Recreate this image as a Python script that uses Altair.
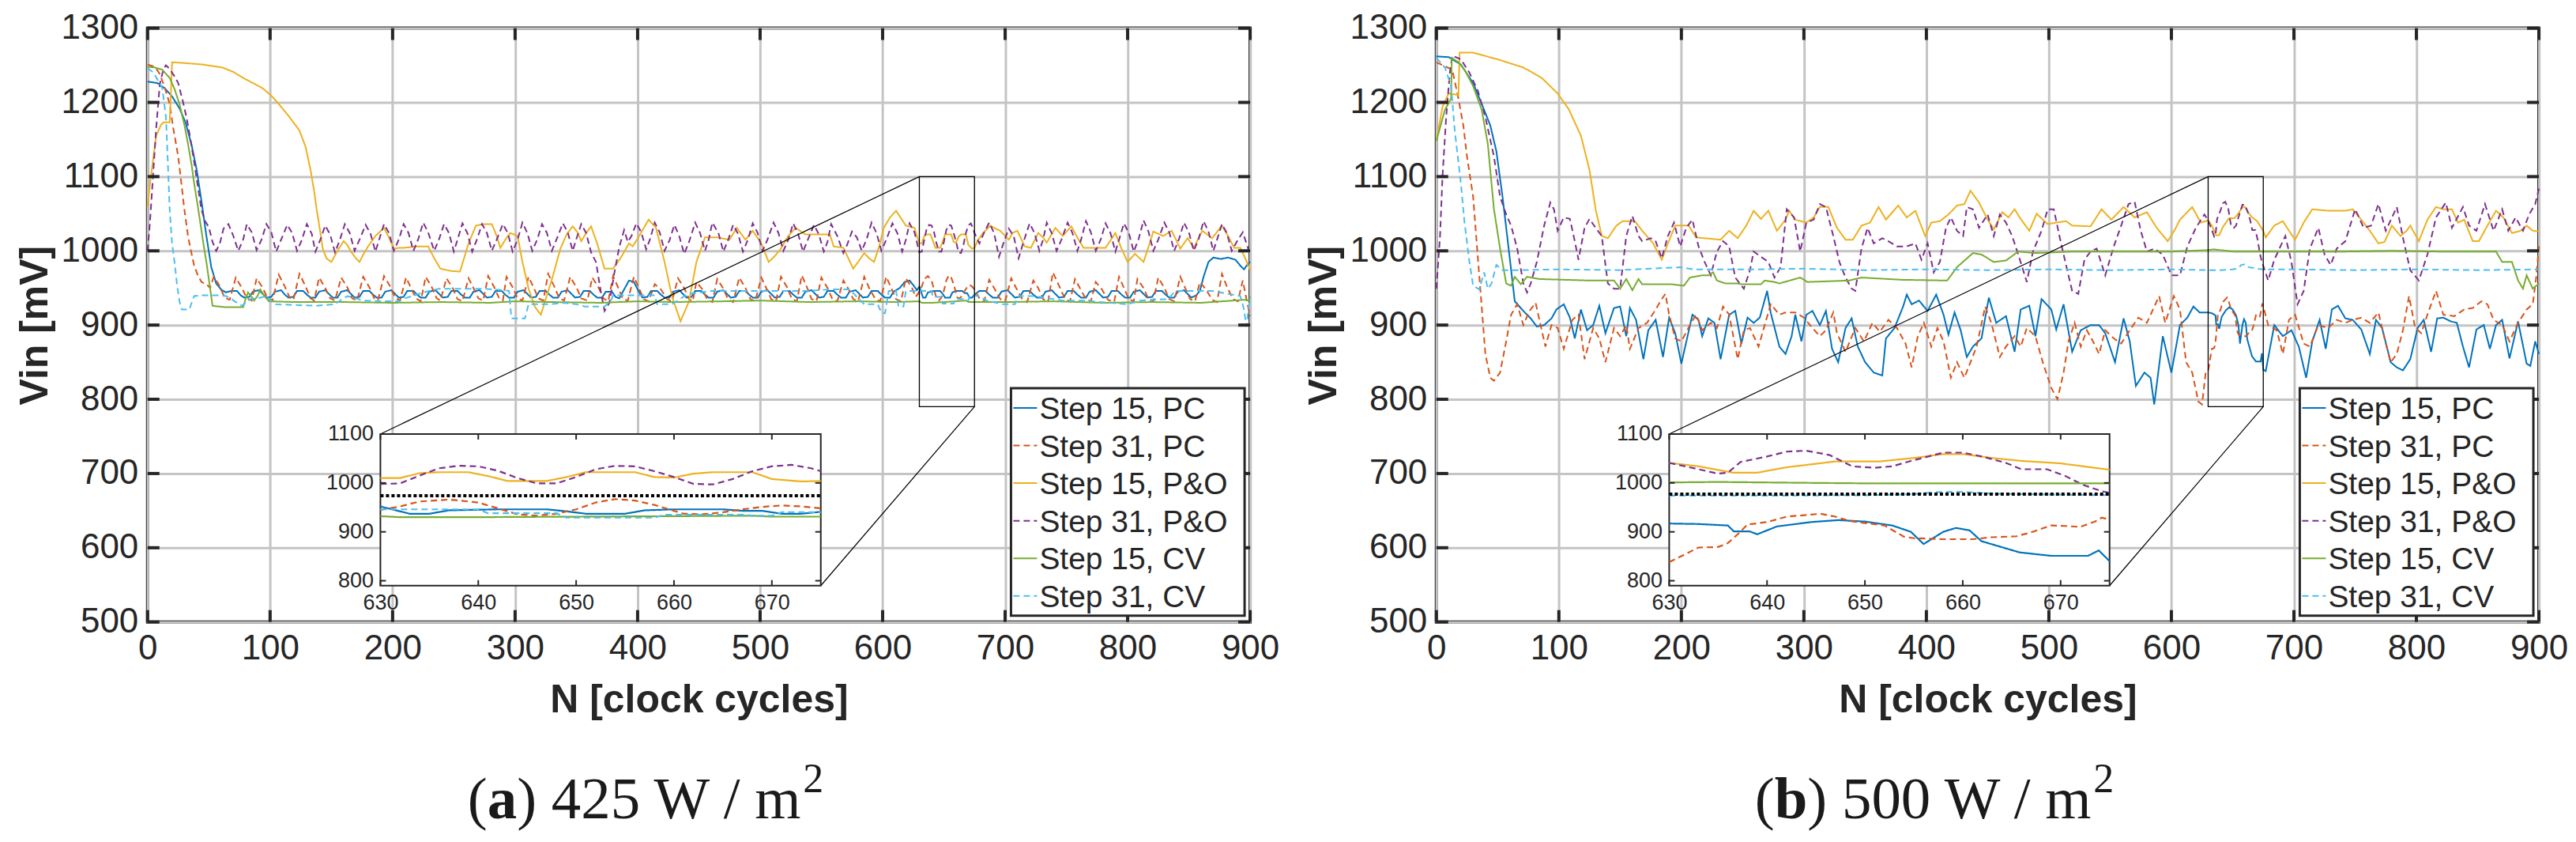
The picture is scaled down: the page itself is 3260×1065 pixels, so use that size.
import altair as alt
import pandas as pd

SERIES = ["Step 15, PC", "Step 31, PC", "Step 15, P&O", "Step 31, P&O", "Step 15, CV", "Step 31, CV"]
COLORS = ["#0072BD", "#D95319", "#EDB120", "#7E2F8E", "#77AC30", "#4DBEEE"]
DASHES = [[1, 0], [8, 5], [1, 0], [8, 5], [1, 0], [8, 5]]

X_TICKS = [0, 100, 200, 300, 400, 500, 600, 700, 800, 900]
Y_TICKS = [500, 600, 700, 800, 900, 1000, 1100, 1200, 1300]
INSET_X_TICKS = [630, 640, 650, 660, 670]
INSET_Y_TICKS = [800, 900, 1000, 1100]
ZOOM_N = [630, 675]
ZOOM_MV = [790, 1100]

# ---- (a) 425 W/m2, (cycle, mV) ----
A_PC15 = [(0,1228),(8,1226),(14,1219),(20,1208),(26,1192),(31,1173),(36,1142),(40,1110),(44,1067),(48,1020),(52,978),(56,956),(60,948),(64,944),(68,946),(73,946),(76,940),(79,937),(83,938),(86,945),(91,947),(94,942),(97,937),(101,938),(104,945),(109,947),(112,941),(115,937),(119,938),(122,946),(127,946),(130,941),(133,937),(137,937),(140,945),(145,947),(148,942),(151,937),(155,937),(158,945),(163,947),(166,942),(169,937),(173,938),(176,946),(181,946),(184,941),(187,937),(191,937),(194,945),(199,947),(202,942),(205,937),(209,938),(212,946),(217,946),(220,941),(223,937),(227,937),(230,945),(235,947),(238,942),(241,937),(245,938),(248,946),(253,946),(256,941),(259,937),(263,937),(266,945),(271,947),(274,942),(277,937),(281,938),(284,946),(289,946),(292,941),(295,937),(299,937),(302,945),(307,947),(310,942),(313,937),(317,938),(320,946),(325,946),(328,941),(331,937),(335,937),(338,945),(343,947),(346,942),(349,937),(353,938),(356,946),(361,946),(364,941),(367,937),(371,937),(374,945),(379,945),(382,938),(385,936),(389,948),(393,960),(397,958),(401,945),(404,937),(408,938),(411,946),(416,946),(419,941),(422,937),(426,937),(429,945),(434,947),(437,942),(440,937),(444,938),(447,946),(452,946),(455,941),(458,937),(462,937),(465,945),(470,947),(473,942),(476,937),(480,938),(483,946),(488,946),(491,941),(494,937),(498,937),(501,945),(506,947),(509,942),(512,937),(516,938),(519,946),(524,946),(527,941),(530,937),(534,937),(537,945),(542,947),(545,942),(548,937),(552,938),(555,946),(560,946),(563,941),(566,937),(570,937),(573,945),(578,947),(581,942),(584,937),(588,938),(591,946),(596,946),(599,941),(602,937),(606,937),(609,945),(614,950),(618,958),(622,960),(625,954),(628,947),(630,952),(632,942),(633,937),(635,937),(637,944),(642,946),(647,946),(649,942),(651,937),(655,937),(657,944),(660,946),(665,946),(667,943),(669,943),(671,937),(673,937),(675,941),(679,946),(684,946),(687,941),(690,937),(694,937),(697,945),(702,947),(705,942),(708,937),(712,938),(715,946),(720,946),(723,941),(726,937),(730,937),(733,945),(738,947),(741,942),(744,937),(748,938),(751,946),(756,946),(759,941),(762,937),(766,937),(769,945),(774,947),(777,942),(780,937),(784,938),(787,946),(792,946),(795,941),(798,937),(802,937),(805,945),(810,947),(813,942),(816,937),(820,938),(823,946),(828,946),(831,941),(834,937),(838,937),(841,945),(846,947),(849,942),(852,937),(856,940),(859,946),(862,965),(866,985),(870,991),(876,989),(882,991),(888,988),(892,980),(895,975),(898,982),(900,985)]
A_PC31 = [(0,1251),(6,1248),(10,1238),(14,1220),(18,1198),(21,1165),(25,1127),(28,1085),(30,1056),(33,1020),(35,1003),(38,980),(41,967),(44,958),(48,955),(51,950),(54,965),(58,955),(63,937),(67,934),(72,964),(77,950),(81,936),(85,933),(89,963),(94,950),(98,936),(102,933),(107,968),(112,952),(116,937),(119,934),(124,969),(129,952),(133,936),(136,933),(140,964),(145,950),(149,936),(153,933),(158,964),(163,951),(167,936),(171,933),(176,965),(181,951),(185,936),(188,933),(193,966),(198,952),(202,937),(206,933),(211,964),(215,950),(219,936),(223,932),(227,965),(232,951),(236,936),(239,933),(244,963),(249,950),(253,935),(257,932),(262,963),(266,950),(270,936),(274,933),(278,966),(283,951),(287,936),(290,933),(293,965),(298,951),(302,936),(306,933),(311,965),(315,951),(319,936),(323,933),(327,969),(332,952),(336,936),(340,933),(345,965),(350,951),(354,936),(359,933),(363,964),(368,951),(372,936),(376,932),(380,966),(384,951),(388,935),(392,933),(397,965),(401,950),(405,935),(409,932),(414,955),(419,948),(424,935),(428,932),(433,963),(438,950),(442,935),(445,932),(448,958),(453,948),(457,934),(461,931),(465,962),(470,949),(474,934),(478,931),(483,964),(488,950),(492,935),(496,932),(501,964),(505,950),(509,935),(513,932),(517,965),(522,951),(526,935),(530,932),(534,967),(538,952),(542,935),(546,932),(550,964),(555,950),(559,935),(563,932),(568,960),(572,949),(576,935),(580,932),(585,965),(589,950),(594,935),(598,932),(603,965),(607,950),(611,935),(615,932),(619,963),(624,950),(627,938),(630,945),(632,952),(634,962),(637,966),(640,960),(642,948),(644,936),(646,933),(648,937),(650,946),(652,960),(654,967),(656,964),(658,955),(660,943),(661,937),(663,936),(665,940),(667,946),(669,951),(671,954),(673,952),(675,948),(679,936),(683,932),(687,961),(691,950),(696,935),(700,932),(705,963),(709,950),(714,935),(718,931),(723,960),(727,950),(731,935),(735,931),(739,971),(744,953),(749,935),(753,932),(757,962),(761,950),(766,935),(770,932),(774,958),(779,948),(784,934),(789,931),(793,965),(797,950),(801,935),(805,932),(808,962),(813,950),(817,935),(821,932),(825,964),(830,950),(834,935),(838,932),(843,965),(847,950),(851,935),(855,932),(859,958),(864,948),(869,934),(873,931),(877,969),(881,952),(886,935),(890,932),(894,960),(897,935),(900,912)]
A_PO15 = [(0,1060),(2,1091),(7,1155),(11,1170),(13,1173),(18,1173),(19,1210),(20,1254),(30,1253),(45,1251),(61,1247),(70,1241),(78,1233),(86,1226),(94,1219),(101,1209),(107,1198),(115,1182),(124,1162),(129,1140),(133,1109),(136,1080),(138,1056),(141,1025),(143,1003),(146,990),(150,985),(155,1000),(160,1013),(163,1008),(166,999),(170,990),(173,985),(176,995),(180,1006),(186,1020),(193,1031),(197,1018),(201,1003),(205,1004),(209,1004),(220,1006),(229,1006),(234,990),(239,976),(247,973),(255,972),(262,1010),(268,1034),(274,1036),(281,1036),(285,1020),(288,1004),(292,1015),(296,1024),(302,1020),(306,985),(311,949),(316,925),(321,914),(326,940),(331,967),(337,1003),(342,1022),(347,1033),(351,1025),(354,1013),(358,1024),(362,1033),(367,1010),(373,976),(380,976),(386,990),(393,1010),(396,1006),(402,1022),(409,1042),(415,1031),(422,985),(428,939),(435,905),(442,932),(448,985),(455,1018),(465,1018),(475,1015),(481,1031),(488,1015),(494,1027),(501,1010),(507,985),(512,993),(517,1003),(523,1020),(529,1031),(537,1022),(557,1022),(560,1006),(568,1004),(576,976),(580,985),(585,997),(589,990),(593,985),(597,1005),(601,1031),(606,1045),(611,1054),(615,1044),(619,1034),(626,1031),(628,1020),(630,1010),(632,1010),(634,1020),(636,1022),(639,1022),(641,1014),(643,1004),(647,1004),(649,1012),(651,1022),(656,1022),(658,1012),(660,1011),(662,1019),(664,1022),(668,1022),(670,1008),(673,1003),(675,1004),(678,1015),(682,1024),(688,1034),(692,1030),(696,1027),(700,1020),(703,1015),(706,1024),(710,1027),(716,1006),(721,1004),(727,1024),(731,1018),(734,1011),(741,1031),(747,1020),(754,1033),(759,1018),(764,1004),(782,1004),(786,1014),(790,1024),(795,1003),(800,985),(806,996),(813,985),(817,1005),(821,1026),(829,1020),(836,1027),(843,1003),(849,1017),(854,1004),(861,1027),(869,1017),(877,1034),(882,1020),(887,1004),(892,1004),(896,990),(900,974)]
A_PO31 = [(0,1000),(2,1040),(4,1090),(7,1165),(10,1225),(13,1245),(15,1250),(18,1245),(22,1235),(25,1226),(29,1200),(32,1178),(35,1150),(38,1120),(41,1087),(44,1055),(47,1040),(50,1032),(53,1012),(56,1000),(59,1010),(62,1030),(66,1036),(70,1020),(74,1000),(78,1015),(81,1036),(85,1025),(89,1001),(93,1015),(97,1036),(101,1025),(105,999),(109,1015),(114,1035),(118,1024),(122,1000),(126,1015),(130,1036),(134,1023),(137,999),(141,1015),(145,1034),(149,1022),(153,998),(157,1015),(161,1036),(165,1024),(169,1000),(173,1015),(178,1035),(182,1023),(186,999),(189,1015),(193,1036),(197,1024),(201,1000),(205,1015),(209,1036),(213,1024),(217,1000),(221,1016),(225,1038),(229,1025),(234,1000),(238,1016),(242,1036),(246,1024),(250,999),(253,1015),(257,1037),(261,1024),(265,999),(269,1016),(273,1036),(277,1024),(281,1000),(285,1015),(290,1036),(294,1024),(298,999),(302,1015),(306,1038),(310,1024),(314,1000),(318,1015),(322,1036),(326,1024),(330,1000),(334,1016),(339,1037),(343,1025),(347,1000),(350,1016),(354,1036),(358,1024),(362,998),(366,985),(370,945),(373,919),(377,930),(381,970),(385,1005),(389,1028),(392,1012),(395,1020),(399,1037),(403,1025),(407,1002),(410,1015),(414,1038),(418,1025),(422,1000),(426,1014),(430,1035),(434,1020),(438,996),(442,1012),(447,1038),(451,1024),(455,1000),(458,1015),(461,1038),(466,1024),(470,999),(474,1015),(478,1035),(482,1023),(486,999),(490,1015),(494,1037),(498,1024),(502,1000),(506,1015),(511,1038),(515,1024),(519,1000),(523,1015),(527,1037),(531,1023),(535,999),(539,1015),(544,1035),(548,1022),(552,999),(555,1012),(558,1036),(563,1020),(568,997),(571,1008),(575,1026),(579,1018),(583,1000),(587,1016),(591,1038),(595,1024),(599,1000),(603,1015),(608,1037),(612,1024),(616,999),(619,1015),(622,1037),(626,1025),(630,998),(632,999),(634,1015),(636,1030),(638,1035),(640,1034),(642,1025),(644,1010),(646,999),(648,999),(650,1012),(652,1028),(654,1035),(656,1034),(658,1024),(660,1012),(662,998),(664,997),(666,1008),(668,1024),(670,1034),(672,1037),(674,1030),(675,1024),(679,1010),(683,1025),(687,1038),(691,1024),(695,992),(699,1012),(703,1030),(707,1020),(711,990),(715,1012),(720,1037),(724,1024),(728,1000),(731,1015),(734,1038),(738,1024),(742,1000),(746,1015),(751,1038),(755,1024),(759,1000),(762,1015),(766,1040),(770,1025),(774,1000),(778,1015),(782,1037),(786,1024),(790,999),(793,1015),(797,1037),(801,1024),(805,999),(809,1016),(813,1041),(817,1026),(821,1000),(825,1015),(830,1038),(834,1025),(838,1000),(842,1016),(846,1038),(850,1025),(854,1000),(858,1016),(862,1040),(866,1026),(870,1000),(873,1015),(877,1036),(881,1024),(885,1000),(889,1012),(894,1025),(897,1010),(900,995)]
A_CV15 = [(0,1248),(6,1247),(12,1244),(18,1233),(22,1218),(26,1198),(30,1170),(33,1144),(36,1115),(38,1091),(41,1060),(43,1038),(46,1005),(48,985),(51,950),(53,926),(58,925),(64,924),(72,924),(78,924),(80,935),(82,944),(85,938),(87,933),(90,940),(92,948),(95,940),(99,932),(120,931),(160,931),(200,930),(240,931),(280,930),(300,932),(330,931),(370,930),(400,932),(430,931),(470,932),(500,933),(540,931),(580,932),(610,931),(630,932),(632,930),(640,930),(650,931),(660,932),(668,933),(670,931),(675,931),(700,931),(740,932),(780,930),(820,931),(860,930),(895,934),(900,933)]
A_CV31 = [(0,1246),(5,1240),(9,1228),(12,1219),(15,1180),(17,1100),(18,1056),(20,1010),(22,985),(24,955),(26,932),(28,921),(30,921),(34,921),(36,930),(38,939),(45,940),(51,940),(58,940),(64,939),(68,936),(71,932),(77,926),(80,930),(84,935),(92,937),(97,939),(100,934),(104,928),(120,927),(137,926),(153,928),(158,934),(163,939),(170,936),(176,933),(189,932),(205,932),(210,936),(216,939),(225,944),(238,949),(255,949),(275,949),(290,947),(295,946),(297,909),(308,909),(311,928),(327,928),(340,930),(350,928),(357,925),(373,925),(378,932),(380,940),(395,940),(414,940),(416,928),(428,928),(441,942),(461,946),(501,946),(537,946),(557,948),(573,948),(585,928),(596,928),(599,917),(602,916),(605,946),(611,946),(613,925),(617,925),(619,946),(630,946),(640,946),(641,938),(648,938),(649,929),(658,929),(659,935),(667,935),(668,933),(670,933),(671,940),(675,940),(678,939),(685,933),(698,928),(708,928),(711,939),(724,939),(747,933),(764,933),(770,932),(800,928),(810,933),(833,935),(839,946),(869,946),(892,939),(895,921),(897,898),(899,925),(900,939)]
A_REF = 974

# ---- (b) 500 W/m2 ----
B_PC15 = [(0,1262),(10,1261),(20,1251),(30,1226),(37,1198),(44,1169),(49,1134),(54,1073),(59,1003),(64,932),(71,919),(77,909),(82,898),(88,900),(94,909),(98,921),(104,928),(109,910),(113,882),(118,921),(123,893),(128,900),(133,926),(138,889),(145,923),(150,925),(155,885),(158,923),(163,907),(169,854),(173,893),(179,907),(185,857),(190,910),(195,889),(200,848),(209,914),(214,907),(217,885),(222,909),(227,903),(232,854),(239,914),(244,919),(249,875),(254,910),(259,903),(264,910),(270,946),(273,916),(280,871),(285,861),(290,885),(293,914),(298,878),(302,914),(307,919),(313,900),(318,919),(323,868),(328,850),(334,896),(339,909),(344,871),(350,850),(357,836),(364,832),(367,882),(374,896),(381,925),(384,941),(388,928),(394,933),(401,919),(408,941),(414,914),(418,887),(423,917),(428,893),(433,857),(438,871),(445,882),(451,937),(457,903),(465,912),(472,864),(477,921),(484,926),(489,885),(494,935),(502,921),(506,894),(512,928),(519,864),(526,893),(534,900),(541,900),(546,889),(554,850),(561,909),(566,878),(571,818),(578,836),(583,829),(586,793),(593,885),(600,836),(607,900),(613,910),(618,925),(623,917),(628,917),(630,917),(633,916),(636,913),(636.6,901),(638.2,901),(639,895),(641,911),(644.5,920),(647.3,924),(650,921),(652.8,913),(654.7,900),(656,875),(658,900),(659.3,908),(660.7,903),(661.9,881),(665.8,858),(669,851),(672.8,851),(673.9,862),(675,840),(677,838),(684,900),(691,885),(698,893),(704,871),(710,829),(715,878),(721,907),(726,868),(731,921),(736,926),(742,909),(748,907),(755,894),(762,861),(767,907),(772,896),(779,850),(784,843),(789,839),(795,854),(801,896),(806,907),(812,864),(817,909),(822,910),(828,905),(833,903),(838,871),(843,843),(849,894),(855,900),(860,868),(865,900),(870,907),(876,855),(883,905),(890,848),(893,845),(897,878),(900,861)]
B_PC31 = [(0,1254),(13,1244),(18,1205),(22,1169),(25,1127),(30,1073),(35,967),(40,861),(44,829),(47,825),(52,836),(57,878),(61,914),(66,928),(71,900),(76,919),(81,930),(86,893),(89,871),(94,900),(99,896),(104,868),(111,907),(116,914),(121,854),(128,896),(133,882),(138,850),(145,896),(150,885),(155,900),(158,868),(165,896),(172,903),(179,921),(184,935),(187,942),(190,914),(195,882),(200,878),(207,900),(212,914),(217,893),(224,903),(229,896),(234,925),(239,914),(246,854),(251,893),(256,896),(263,871),(268,900),(273,928),(280,914),(285,917),(293,917),(300,910),(307,896),(313,885),(318,893),(324,917),(327,889),(334,864),(342,896),(349,878),(356,903),(362,891),(369,907),(376,896),(383,875),(388,843),(393,885),(398,903),(404,871),(409,896),(414,878),(420,829),(425,850),(431,829),(436,850),(441,871),(448,925),(453,903),(460,857),(465,871),(472,885),(477,871),(482,896),(489,885),(495,850),(502,815),(507,800),(512,836),(516,878),(521,903),(526,871),(531,893),(536,878),(541,861),(546,893),(553,882),(559,875),(566,893),(573,910),(580,903),(585,921),(590,939),(595,903),(602,939),(607,921),(612,850),(617,836),(622,797),(625,793),(628,836),(630,838),(632,858),(633,868),(635,869),(636,877),(637,895),(638,915),(640,920),(642,931),(645.5,937),(647,931),(648.5,922),(652,913),(654,890),(655,887),(658,885),(661,885),(663,889),(665.5,891),(667,899),(669,913),(670.5,912),(672,910),(673.5,921),(674.2,929),(675,925),(679,900),(686,893),(691,861),(696,907),(701,914),(708,875),(713,871),(720,900),(728,896),(735,907),(742,903),(748,907),(755,910),(762,903),(769,917),(774,882),(779,850),(784,861),(789,893),(794,939),(799,896),(804,889),(809,914),(816,946),(822,914),(831,912),(839,921),(846,923),(853,932),(858,928),(863,907),(870,900),(876,878),(883,903),(890,921),(895,928),(898,967),(900,1006)]
B_PO15 = [(0,1148),(5,1194),(10,1212),(18,1210),(19,1267),(30,1267),(50,1258),(71,1247),(86,1233),(99,1212),(108,1191),(118,1155),(125,1109),(130,1056),(135,1020),(140,1017),(147,1034),(152,1040),(162,1040),(168,1027),(177,1010),(184,988),(189,1010),(195,1034),(206,1034),(212,1018),(219,1017),(232,1015),(239,1027),(246,1017),(253,1034),(259,1054),(265,1043),(271,1054),(278,1027),(285,1042),(288,1054),(293,1042),(302,1038),(308,1045),(313,1059),(320,1059),(327,1031),(334,1015),(340,1015),(347,1034),(354,1038),(361,1059),(367,1042),(377,1061),(384,1045),(391,1054),(399,1020),(404,1038),(411,1040),(418,1049),(425,1061),(431,1063),(436,1081),(443,1065),(450,1042),(455,1029),(462,1052),(467,1045),(472,1056),(477,1043),(484,1027),(490,1050),(499,1036),(506,1038),(514,1040),(519,1034),(534,1033),(543,1056),(551,1042),(561,1059),(570,1045),(580,1052),(588,1031),(597,1013),(603,1029),(607,1042),(617,1059),(624,1038),(628,1040),(630,1041),(633,1034),(636.5,1021),(639,1021),(642,1032),(647,1044),(651.5,1044),(655,1051),(658,1059),(660,1059),(663,1051),(666,1045),(670,1040),(675,1027),(677,1018),(684,1034),(691,1040),(696,1027),(701,1015),(708,1038),(715,1056),(728,1054),(742,1054),(748,1056),(755,1042),(762,1027),(769,1010),(774,1012),(780,1034),(787,1020),(792,1027),(795,1034),(802,1013),(809,1042),(816,1059),(822,1056),(829,1056),(834,1038),(839,1042),(846,1013),(851,1013),(858,1034),(865,1054),(871,1045),(878,1024),(885,1027),(890,1034),(895,1027),(900,1026)]
B_PO31 = [(0,949),(3,1020),(5,1100),(8,1180),(11,1240),(13,1263),(20,1258),(27,1240),(34,1215),(40,1180),(47,1127),(52,1073),(57,1049),(61,1034),(66,1003),(71,956),(74,944),(77,956),(82,985),(88,1034),(93,1065),(96,1056),(99,1027),(104,1045),(109,1043),(113,1013),(116,988),(121,1031),(125,1043),(130,1031),(135,1020),(140,956),(145,949),(150,949),(155,1020),(160,1047),(165,1020),(168,1013),(175,1017),(179,1013),(184,990),(189,1020),(194,1038),(199,1006),(204,1031),(209,1042),(214,1006),(219,985),(224,967),(229,999),(234,1013),(239,1006),(244,964),(251,949),(256,974),(259,999),(265,992),(271,985),(276,964),(281,978),(286,1056),(292,1045),(297,999),(302,1038),(308,1042),(313,1063),(318,1059),(324,1020),(329,985),(334,964),(339,949),(342,946),(347,1003),(352,1031),(357,1010),(364,1017),(369,1013),(376,1006),(384,1006),(391,1010),(396,988),(401,1010),(406,971),(411,985),(416,1031),(420,1045),(425,1027),(430,1020),(433,1059),(438,1056),(443,1031),(450,1049),(455,1020),(460,1049),(465,1038),(470,1020),(475,995),(482,958),(487,999),(494,1027),(499,1056),(504,1056),(509,1017),(514,981),(519,946),(524,942),(529,988),(534,999),(539,1003),(546,967),(553,1006),(559,1034),(565,1063),(570,1066),(575,1027),(580,999),(586,1003),(593,995),(600,967),(607,967),(613,1006),(620,1031),(627,1049),(630,1041),(633,1028),(635,1019),(636,1021),(637.3,1043),(640,1054),(642,1064),(644,1066),(646.4,1057),(648.7,1034),(651,1031),(652.8,1034),(654.7,1045),(658,1062),(660,1062),(662,1054),(664.4,1041),(666,1028),(668.6,1028),(670.4,1015),(672.3,996),(674.2,983),(675,980),(679,960),(684,988),(693,1020),(698,985),(703,928),(708,946),(713,1003),(720,1031),(725,995),(730,981),(735,1003),(742,1013),(750,1056),(757,1031),(763,1034),(769,1063),(775,1027),(784,1059),(790,1010),(795,974),(802,960),(809,995),(816,1045),(824,1065),(829,1031),(838,1059),(843,1034),(849,1027),(856,1063),(863,1027),(870,1056),(875,1027),(881,1045),(887,1027),(892,1049),(897,1063),(900,1084)]
B_CV15 = [(0,1148),(7,1190),(12,1205),(12.6,1260),(18,1254),(23,1244),(30,1222),(37,1190),(42,1144),(47,1056),(52,1003),(57,956),(61,953),(64,965),(69,955),(74,965),(84,962),(125,960),(145,960),(150,949),(155,962),(160,947),(165,962),(168,955),(192,955),(202,953),(207,964),(217,967),(222,967),(226,971),(229,960),(236,956),(246,956),(249,955),(265,955),(268,960),(276,958),(280,956),(297,964),(303,958),(337,960),(347,964),(380,961),(417,960),(425,978),(438,997),(445,995),(455,985),(465,987),(475,999),(489,997),(520,999),(560,999),(600,999),(630,1001),(635,1002),(645,1000),(651,999),(675,999),(700,999),(740,999),(780,1000),(820,999),(865,999),(870,985),(878,985),(883,960),(887,949),(890,967),(895,949),(900,956)]
B_CV31 = [(0,1260),(7,1247),(12,1222),(15,1162),(20,1091),(23,1038),(27,985),(30,953),(35,948),(39,971),(42,949),(45,956),(49,981),(54,974),(67,974),(100,975),(150,974),(199,978),(210,975),(260,975),(300,976),(350,974),(400,975),(450,974),(500,975),(550,974),(600,975),(630,974),(640,974),(650,975),(655,977),(657,981),(660,982),(663,978),(670,976),(675,975),(700,975),(750,974),(800,975),(850,974),(900,975)]
B_REF = 977

# ---- layout (pixels) ----
W, H = 1397, 752
IN_X = [295, 853]
IN_Y = [706, 514]
LEG_BOX = [1094, 1390, 456, 744]
LEG_ROWS = [481, 719]
INK = "#262626"
GRID = "#c4c4c4"
SANS = "Liberation Sans"
SERIF = "Liberation Serif"


def long_df(lists):
    rows = []
    for name, pts in zip(SERIES, lists):
        for i, (n, v) in enumerate(pts):
            rows.append({"series": name, "n": n, "v": v, "idx": i})
    return pd.DataFrame(rows)


def panel(lists, ref_mv, letter, value, letter_w):
    df = long_df(lists)
    xs = alt.Scale(domain=[0, 900], nice=False, zero=False)
    ys = alt.Scale(domain=[500, 1300], nice=False, zero=False)
    xi = alt.Scale(domain=ZOOM_N, range=IN_X, nice=False, zero=False)
    yi = alt.Scale(domain=ZOOM_MV, range=IN_Y, nice=False, zero=False)
    cscale = alt.Scale(domain=SERIES, range=COLORS)
    dscale = alt.Scale(domain=SERIES, range=DASHES)
    color = alt.Color("series:N", scale=cscale, legend=None)
    dash = alt.StrokeDash("series:N", scale=dscale, legend=None)

    ax_x = alt.Axis(values=X_TICKS, format="d", grid=True, gridColor=GRID, gridWidth=3, ticks=False,
                    domain=False, labelFontSize=44, labelPadding=12, labelFlush=False, labelOverlap=False,
                    title="N [clock cycles]", titleFontSize=50, titleFontWeight="bold", titlePadding=18)
    ax_y = alt.Axis(values=Y_TICKS, format="d", grid=True, gridColor=GRID, gridWidth=3, ticks=False,
                    domain=False, labelFontSize=44, labelPadding=12, labelOverlap=False,
                    title="Vin [mV]", titleFontSize=50, titleFontWeight="bold", titlePadding=8)

    lines = alt.Chart(df).mark_line(strokeWidth=2).encode(
        x=alt.X("n:Q", scale=xs, axis=ax_x),
        y=alt.Y("v:Q", scale=ys, axis=ax_y),
        color=color, strokeDash=dash,
        order=alt.Order("idx:Q"),
    )

    yt = pd.DataFrame({"v": Y_TICKS})
    xt = pd.DataFrame({"n": X_TICKS})
    rule = dict(color=INK, strokeWidth=4)
    tick_l = alt.Chart(yt).mark_rule(**rule).encode(y=alt.Y("v:Q", scale=ys, axis=None), x=alt.value(0), x2=alt.value(15))
    tick_r = alt.Chart(yt).mark_rule(**rule).encode(y=alt.Y("v:Q", scale=ys, axis=None), x=alt.value(W - 15), x2=alt.value(W))
    tick_t = alt.Chart(xt).mark_rule(**rule).encode(x=alt.X("n:Q", scale=xs, axis=None), y=alt.value(0), y2=alt.value(15))
    tick_b = alt.Chart(xt).mark_rule(**rule).encode(x=alt.X("n:Q", scale=xs, axis=None), y=alt.value(H - 15), y2=alt.value(H))

    box = pd.DataFrame({"n0": [ZOOM_N[0]], "n1": [ZOOM_N[1]], "v0": [ZOOM_MV[0]], "v1": [ZOOM_MV[1]]})
    zoom = alt.Chart(box).mark_rect(fillOpacity=0, stroke="black", strokeWidth=1.3).encode(
        x=alt.X("n0:Q", scale=xs, axis=None), x2="n1:Q",
        y=alt.Y("v0:Q", scale=ys, axis=None), y2="v1:Q")
    link_top = alt.Chart(box).mark_rule(color="black", strokeWidth=1.2).encode(
        x=alt.X("n0:Q", scale=xs, axis=None), y=alt.Y("v1:Q", scale=ys, axis=None),
        x2=alt.value(IN_X[0]), y2=alt.value(IN_Y[1]))
    link_bot = alt.Chart(box).mark_rule(color="black", strokeWidth=1.2).encode(
        x=alt.X("n1:Q", scale=xs, axis=None), y=alt.Y("v0:Q", scale=ys, axis=None),
        x2=alt.value(IN_X[1]), y2=alt.value(IN_Y[0]))

    # legend box drawn inside the plot
    leg_df = pd.DataFrame({"series": SERIES})
    rows = alt.Y("series:N", scale=alt.Scale(type="point", domain=SERIES, range=LEG_ROWS, padding=0), axis=None)
    leg_box = alt.Chart(box).mark_rect(fill="white", stroke=INK, strokeWidth=3).encode(
        x=alt.value(LEG_BOX[0]), x2=alt.value(LEG_BOX[1]), y=alt.value(LEG_BOX[2]), y2=alt.value(LEG_BOX[3]))
    leg_sym = alt.Chart(leg_df).mark_rule(strokeWidth=2).encode(
        x=alt.value(LEG_BOX[0] + 3), x2=alt.value(LEG_BOX[0] + 33), y=rows, color=color, strokeDash=dash)
    leg_txt = alt.Chart(leg_df).mark_text(align="left", baseline="middle", font=SANS, fontSize=39,
                                          color=INK, dy=2).encode(
        x=alt.value(LEG_BOX[0] + 36), y=rows, text="series:N")

    # caption "(a) 425 W / m²"
    fs = 75
    cx = 631 - (fs * (0.333 + 4.833) + letter_w * fs + 26) / 2
    cy = 1001
    cap = dict(font=SERIF, fontSize=fs, align="left", baseline="alphabetic", color="#1a1a1a")
    cap1 = alt.Chart(pd.DataFrame({"t": ["("]})).mark_text(**cap).encode(x=alt.value(cx), y=alt.value(cy), text="t:N")
    cap2 = alt.Chart(pd.DataFrame({"t": [letter]})).mark_text(fontWeight="bold", **cap).encode(
        x=alt.value(cx + 0.333 * fs), y=alt.value(cy), text="t:N")
    cap3 = alt.Chart(pd.DataFrame({"t": [") " + value + " W / m"]})).mark_text(**cap).encode(
        x=alt.value(cx + (0.333 + letter_w) * fs), y=alt.value(cy), text="t:N")
    cap4 = alt.Chart(pd.DataFrame({"t": ["2"]})).mark_text(font=SERIF, fontSize=52, align="left",
                                                          baseline="alphabetic", color="#1a1a1a").encode(
        x=alt.value(cx + (0.333 + letter_w + 4.833) * fs), y=alt.value(cy - 33), text="t:N")

    # inset
    ax_xi = alt.Axis(orient="bottom", offset=IN_Y[0] - H, values=INSET_X_TICKS, format="d", grid=False, ticks=False,
                     domain=False, labelFontSize=27, labelPadding=9, labelFlush=False, labelOverlap=False, title=None)
    ax_yi = alt.Axis(orient="left", offset=-IN_X[0], values=INSET_Y_TICKS, format="d", grid=False, ticks=False,
                     domain=False, labelFontSize=27, labelPadding=9, labelOverlap=False, title=None)
    frame = alt.Chart(box).mark_rect(fill="white", stroke=INK, strokeWidth=2).encode(
        x=alt.X("n0:Q", scale=xi, axis=ax_xi), x2="n1:Q",
        y=alt.Y("v0:Q", scale=yi, axis=ax_yi), y2="v1:Q")
    ins = df[(df["n"] >= ZOOM_N[0]) & (df["n"] <= ZOOM_N[1])]
    in_lines = alt.Chart(ins).mark_line(strokeWidth=2.2).encode(
        x=alt.X("n:Q", scale=xi, axis=None),
        y=alt.Y("v:Q", scale=yi, axis=None),
        color=color, strokeDash=dash,
        order=alt.Order("idx:Q"),
    )
    ref = alt.Chart(pd.DataFrame({"n0": [ZOOM_N[0]], "n1": [ZOOM_N[1]], "v": [ref_mv]})).mark_rule(
        color="black", strokeWidth=4, strokeDash=[4, 3]).encode(
        x=alt.X("n0:Q", scale=xi, axis=None), x2="n1:Q", y=alt.Y("v:Q", scale=yi, axis=None))
    iyt = pd.DataFrame({"v": INSET_Y_TICKS})
    ixt = pd.DataFrame({"n": INSET_X_TICKS})
    irule = dict(color=INK, strokeWidth=2)
    it_l = alt.Chart(iyt).mark_rule(**irule).encode(y=alt.Y("v:Q", scale=yi, axis=None), x=alt.value(IN_X[0]), x2=alt.value(IN_X[0] + 7))
    it_r = alt.Chart(iyt).mark_rule(**irule).encode(y=alt.Y("v:Q", scale=yi, axis=None), x=alt.value(IN_X[1] - 7), x2=alt.value(IN_X[1]))
    it_t = alt.Chart(ixt).mark_rule(**irule).encode(x=alt.X("n:Q", scale=xi, axis=None), y=alt.value(IN_Y[1]), y2=alt.value(IN_Y[1] + 7))
    it_b = alt.Chart(ixt).mark_rule(**irule).encode(x=alt.X("n:Q", scale=xi, axis=None), y=alt.value(IN_Y[0] - 7), y2=alt.value(IN_Y[0]))

    return alt.layer(
        lines, zoom, link_top, link_bot, tick_l, tick_r, tick_t, tick_b,
        frame, in_lines, ref, it_l, it_r, it_t, it_b,
        leg_box, leg_sym, leg_txt,
        cap1, cap2, cap3, cap4,
    ).resolve_scale(x="independent", y="independent").properties(width=W, height=H)


pa = panel([A_PC15, A_PC31, A_PO15, A_PO31, A_CV15, A_CV31], A_REF, "a", "425", 0.5)
pb = panel([B_PC15, B_PC31, B_PO15, B_PO31, B_CV15, B_CV31], B_REF, "b", "500", 0.556)

chart = alt.hconcat(pa, pb, spacing=27).resolve_scale(
    color="independent", strokeDash="independent"
).properties(
    padding={"left": 9, "top": 3, "right": 0, "bottom": 0}
).configure_view(
    stroke=INK, strokeWidth=4
).configure_axis(
    labelFont=SANS, titleFont=SANS, labelColor=INK, titleColor=INK
)

chart.save("out.html", embed_options={"renderer": "svg", "actions": False})
